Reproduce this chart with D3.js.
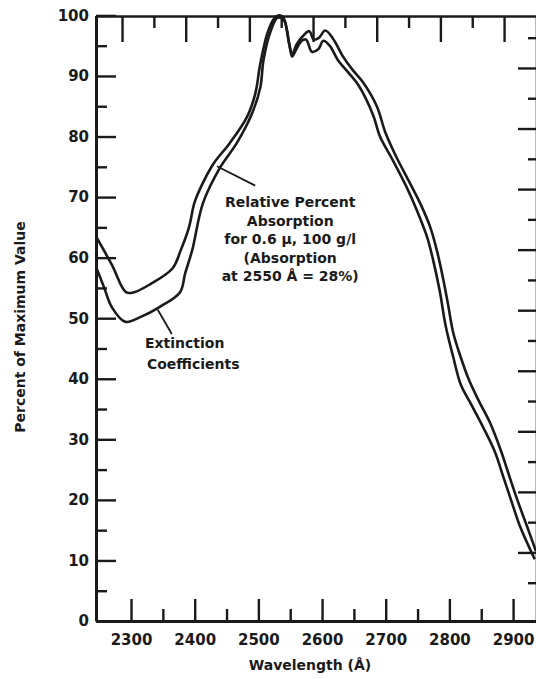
<!DOCTYPE html>
<html lang="en">
<head>
<meta charset="utf-8">
<script src="https://cdn.jsdelivr.net/npm/d3@7"></script>
<style>
  body { margin: 0; background: #fff; }
  svg { display: block; }
  text { font-family: "DejaVu Sans", "Liberation Sans", Arial, sans-serif; fill: #1a1a1a; }
  .axis path, .axis line { stroke: #1a1a1a; }
</style>
</head>
<body>
<svg id="chart" width="536" height="679"></svg>
<script>
// wavelength (Å) and percent of max
const absorptionWave = [2245, 2270, 2292, 2305, 2330, 2365, 2378, 2391, 2400, 2415, 2430, 2455, 2482, 2495, 2503, 2514, 2525, 2533, 2540, 2548, 2553, 2560, 2570, 2580, 2587, 2595, 2605, 2617, 2633, 2648, 2664, 2686, 2699, 2715, 2738, 2754, 2770, 2781, 2790, 2798, 2806, 2817, 2830, 2845, 2864, 2880, 2892, 2906, 2922, 2936];
const absorptionPct  = [63.5, 58.8, 54.3, 54.3, 55.6, 58.2, 61.2, 65.0, 69.2, 72.8, 75.6, 78.9, 83.2, 87.0, 92.0, 97.0, 99.5, 100, 99.5, 95.5, 93.6, 95.2, 96.6, 97.4, 96.0, 96.3, 97.5, 96.2, 93.2, 91.0, 89.0, 85.0, 80.8, 77.0, 72.3, 69.0, 65.0, 60.9, 56.6, 52.2, 47.6, 43.8, 40.0, 36.6, 32.7, 28.4, 24.6, 20.2, 15.6, 11.5];

const extinctionWave = [2245, 2258, 2270, 2291, 2317, 2344, 2377, 2385, 2396, 2413, 2440, 2466, 2490, 2503, 2508, 2518, 2530, 2540, 2549, 2553, 2560, 2568, 2575, 2584, 2594, 2602, 2612, 2625, 2641, 2657, 2680, 2691, 2710, 2733, 2749, 2765, 2774, 2785, 2794, 2806, 2818, 2834, 2853, 2872, 2884, 2898, 2911, 2934];
const extinctionPct  = [58.5, 55.0, 51.8, 49.4, 50.3, 51.8, 54.3, 57.4, 61.2, 69.0, 74.9, 78.9, 83.8, 88.1, 92.6, 97.0, 99.6, 99.2, 95.0, 93.2, 94.5, 95.8, 96.0, 94.0, 94.4, 95.8, 95.0, 92.6, 90.6, 88.5, 83.6, 80.0, 76.3, 71.6, 67.8, 63.4, 59.8, 54.4, 48.8, 43.6, 39.0, 35.8, 32.0, 27.8, 24.0, 19.6, 15.6, 10.2];

const xMajor = [2300, 2400, 2500, 2600, 2700, 2800, 2900];
const xMinor = [2350, 2450, 2550, 2650, 2750, 2850];
const yMajor = [0, 10, 20, 30, 40, 50, 60, 70, 80, 90, 100];
const yMinor = [5, 15, 25, 35, 45, 55, 65, 75, 85, 95];

const absorptionNote = ["Relative Percent", "Absorption", "for 0.6 \u00b5, 100 g/l", "(Absorption", "at 2550 \u00c5 = 28%)"];
const extinctionNote = ["Extinction", "Coefficients"];

const svg = d3.select("#chart");

const x = d3.scaleLinear().domain([2245, 2936]).range([96, 536]);
const y = d3.scaleLinear().domain([0, 100]).range([621, 15.4]);

function styleAxis(g, w) {
  g.attr("class", "axis");
  g.selectAll("path").attr("stroke-width", w);
  g.selectAll("line").attr("stroke-width", 2.4);
  g.selectAll("text").style("font-size", "15px").style("font-weight", "bold").attr("fill", "#1a1a1a");
}

// left axis
svg.append("g").attr("transform", "translate(96,0)")
  .call(d3.axisLeft(y).tickValues(yMinor).tickSize(-11).tickSizeOuter(0).tickFormat(""))
  .call(g => g.select(".domain").remove())
  .call(g => styleAxis(g, 3));
svg.append("g").attr("transform", "translate(96,0)")
  .call(d3.axisLeft(y).tickValues(yMajor).tickSize(-20).tickSizeOuter(0).tickPadding(7))
  .call(g => styleAxis(g, 3));

// bottom axis
svg.append("g").attr("transform", "translate(0,621)")
  .call(d3.axisBottom(x).tickValues(xMinor).tickSize(-12).tickSizeOuter(0).tickFormat(""))
  .call(g => g.select(".domain").remove())
  .call(g => styleAxis(g, 3));
svg.append("g").attr("transform", "translate(0,621)")
  .call(d3.axisBottom(x).tickValues(xMajor).tickSize(-22).tickSizeOuter(0).tickPadding(13).tickFormat(d3.format("d")))
  .call(g => styleAxis(g, 3));

// top frame, ticks drawn a little off as in the scan
svg.append("g").attr("transform", "translate(0,16)")
  .call(d3.axisTop(x).tickValues([]).tickSizeOuter(0))
  .call(g => styleAxis(g, 2.6));
svg.append("g").attr("transform", "translate(-9,16)")
  .call(d3.axisTop(x).tickValues(xMajor).tickSize(-26).tickFormat(""))
  .call(g => g.select(".domain").remove())
  .call(g => styleAxis(g, 2.4));
svg.append("g").attr("transform", "translate(-9,16)")
  .call(d3.axisTop(x).tickValues(xMinor).tickSize(-12).tickFormat(""))
  .call(g => g.select(".domain").remove())
  .call(g => styleAxis(g, 2.4));

// right frame (mostly cut off by the crop)
svg.append("g").attr("transform", "translate(536.5,0)")
  .call(d3.axisRight(y).tickValues([]).tickSizeOuter(0))
  .call(g => styleAxis(g, 2.6));
svg.append("g").attr("transform", "translate(536,-8)")
  .call(d3.axisRight(y).tickValues(yMajor.slice(1, 10)).tickSize(-18).tickFormat(""))
  .call(g => g.select(".domain").remove())
  .call(g => styleAxis(g, 2.2));
svg.append("g").attr("transform", "translate(536,-8)")
  .call(d3.axisRight(y).tickValues(yMinor).tickSize(-8).tickFormat(""))
  .call(g => g.select(".domain").remove())
  .call(g => styleAxis(g, 2.2));

// curves
const line = d3.line()
  .x(d => x(d[0]))
  .y(d => y(d[1]))
  .curve(d3.curveCatmullRom.alpha(0.5));

const absorption = absorptionWave.map((w, i) => [w, absorptionPct[i]]);
const extinction = extinctionWave.map((w, i) => [w, extinctionPct[i]]);

svg.append("clipPath").attr("id", "plotClip")
  .append("rect").attr("x", 96).attr("y", 14).attr("width", 440).attr("height", 607);

[absorption, extinction].forEach(data => {
  svg.append("path")
    .datum(data)
    .attr("clip-path", "url(#plotClip)")
    .attr("fill", "none")
    .attr("stroke", "#1a1a1a")
    .attr("stroke-width", 2.6)
    .attr("stroke-linejoin", "round")
    .attr("d", line);
});

// pointer lines
svg.append("line")
  .attr("x1", x(2435)).attr("y1", y(75.1))
  .attr("x2", x(2495)).attr("y2", y(71.9))
  .attr("stroke", "#1a1a1a").attr("stroke-width", 1.8);
svg.append("line")
  .attr("x1", x(2342)).attr("y1", y(51.4))
  .attr("x2", x(2364)).attr("y2", y(47.4))
  .attr("stroke", "#1a1a1a").attr("stroke-width", 1.8);

// annotations
const noteA = svg.append("text")
  .attr("x", x(2550)).attr("y", y(68.3))
  .attr("text-anchor", "middle")
  .style("font-size", "14px").style("font-weight", "bold");
absorptionNote.forEach((t, i) => {
  noteA.append("tspan").attr("x", x(2550)).attr("dy", i === 0 ? 0 : 18.5).text(t);
});

const noteE = svg.append("text")
  .attr("x", x(2322)).attr("y", y(45.1))
  .style("font-size", "14px").style("font-weight", "bold");
extinctionNote.forEach((t, i) => {
  noteE.append("tspan").attr("x", x(2322 + i * 3)).attr("dy", i === 0 ? 0 : 21).text(t);
});

// axis titles
svg.append("text")
  .attr("x", 310).attr("y", 670)
  .attr("text-anchor", "middle")
  .style("font-size", "14px").style("font-weight", "bold")
  .text("Wavelength (\u00c5)");

svg.append("text")
  .attr("transform", "translate(25,327) rotate(-90)")
  .attr("text-anchor", "middle")
  .style("font-size", "14px").style("font-weight", "bold")
  .text("Percent of Maximum Value");
</script>
</body>
</html>
